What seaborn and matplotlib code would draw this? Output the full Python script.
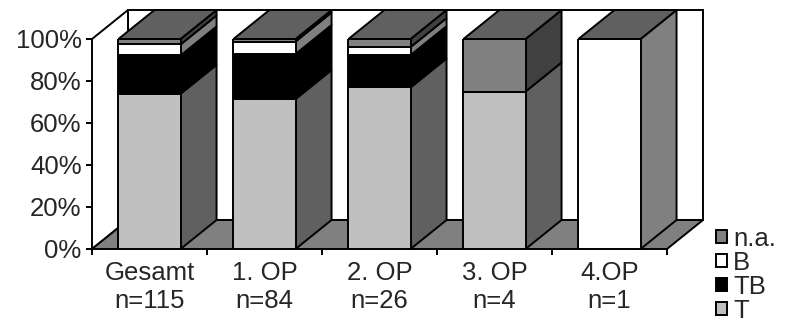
import matplotlib
matplotlib.use("Agg")
import matplotlib.pyplot as plt
import seaborn as sns
import numpy as np
from matplotlib.patches import Polygon, Patch

# Category labels (group and number of cases)
categories = ["Gesamt\nn=115", "1. OP\nn=84", "2. OP\nn=26", "3. OP\nn=4", "4.OP\nn=1"]
totals = [115, 84, 26, 4, 1]

# Case counts per outcome
counts_T = [85, 60, 20, 3, 0]
counts_TB = [21, 18, 4, 0, 0]
counts_B = [6, 5, 1, 0, 1]
counts_na = [3, 1, 1, 1, 0]

series_names = ["T", "TB", "B", "n.a."]
front_colors = ["#C0C0C0", "#000000", "#FFFFFF", "#808080"]
yticks = [0, 20, 40, 60, 80, 100]

sns.set_style("white")
plt.rcParams["font.family"] = ["Liberation Sans", "DejaVu Sans"]
FS = 18.5
LW = 1.4


def shade(hex_color, f):
    rgb = np.array(matplotlib.colors.to_rgb(hex_color))
    return tuple(rgb * f)


fig = plt.figure(figsize=(7.89, 3.25), dpi=100)
W, H = 789, 325
ax = fig.add_axes([92 / W, (H - 249) / H, 575 / W, 210 / H])

all_counts = [counts_T, counts_TB, counts_B, counts_na]
pcts = [np.array(c) / np.array(totals) * 100 for c in all_counts]

bar_width = 0.54
bottom = np.zeros(len(categories))
segments = []  # (patches, bottoms, tops, colour)
for name, pct, col in zip(series_names, pcts, front_colors):
    n_before = len(ax.patches)
    sns.barplot(x=categories, y=pct, bottom=bottom.copy(), color=col,
                saturation=1, width=bar_width, edgecolor="black",
                linewidth=LW, ax=ax, order=categories, zorder=3)
    new = ax.patches[n_before:]
    segments.append((new, bottom.copy(), bottom + pct, col))
    bottom = bottom + pct

ax.set_xlim(-0.5, len(categories) - 0.5)
ax.set_ylim(0, 100)

# depth of the 3D box in data units
dx, dy = 36 / 115, 29 / 2.1
x0, x1 = -0.5, len(categories) - 0.5

# back wall, side wall and floor
back = Polygon([(x0 + dx, dy), (x1 + dx, dy), (x1 + dx, 100 + dy), (x0 + dx, 100 + dy)],
               closed=True, facecolor="white", edgecolor="black", lw=LW,
               clip_on=False, zorder=0.5)
side = Polygon([(x0, 0), (x0 + dx, dy), (x0 + dx, 100 + dy), (x0, 100)],
               closed=True, facecolor="white", edgecolor="black", lw=LW,
               clip_on=False, zorder=0.6)
floor = Polygon([(x0, 0), (x1, 0), (x1 + dx, dy), (x0 + dx, dy)],
                closed=True, facecolor="#808080", edgecolor="black", lw=LW,
                clip_on=False, zorder=0.7)
for p in (back, side, floor):
    ax.add_patch(p)

# side faces of every segment and the top face of each column
for patches, bots, tops, col in segments:
    for p, b, t in zip(patches, bots, tops):
        if t - b <= 1e-9:
            continue
        r = p.get_x() + p.get_width()
        face = Polygon([(r, b), (r + dx, b + dy), (r + dx, t + dy), (r, t)],
                       closed=True, facecolor=shade(col, 0.5), edgecolor="black",
                       lw=LW, clip_on=False, zorder=2.5)
        ax.add_patch(face)

top_col = shade(front_colors[-1], 0.75)
for p, t in zip(segments[-1][0], segments[-1][2]):
    l = p.get_x()
    r = l + p.get_width()
    face = Polygon([(l, t), (r, t), (r + dx, t + dy), (l + dx, t + dy)],
                   closed=True, facecolor=top_col, edgecolor="black",
                   lw=LW, clip_on=False, zorder=4)
    ax.add_patch(face)

for s in ax.spines.values():
    s.set_visible(False)

ax.set_xlabel("")
ax.set_ylabel("")
ax.set_yticks(yticks)
ax.set_yticklabels([f"{v}%" for v in yticks], fontsize=FS)
ax.tick_params(axis="y", direction="out", length=4.5, width=LW, pad=3,
               left=True, color="black")
ax.set_xticks(range(len(categories)))
ax.set_xticklabels(categories, fontsize=FS, linespacing=1.2)
ax.tick_params(axis="x", which="major", length=0, pad=9, bottom=True)
ax.set_xticks(np.arange(x0, x1 + 0.01, 1), minor=True)
ax.tick_params(axis="x", which="minor", direction="out", length=4.5,
               width=LW, bottom=True, color="black")
ax.grid(False)

handles = [Patch(facecolor=c, edgecolor="black", lw=LW)
           for c in front_colors[::-1]]
fig.legend(handles, series_names[::-1], loc="upper left",
           bbox_to_anchor=(716 / W, 1 - 227 / H), frameon=False,
           fontsize=FS, handlelength=0.42, handleheight=0.42,
           handletextpad=0.25, labelspacing=0.0, borderpad=0,
           borderaxespad=0)

fig.savefig("out.png", dpi=100)
